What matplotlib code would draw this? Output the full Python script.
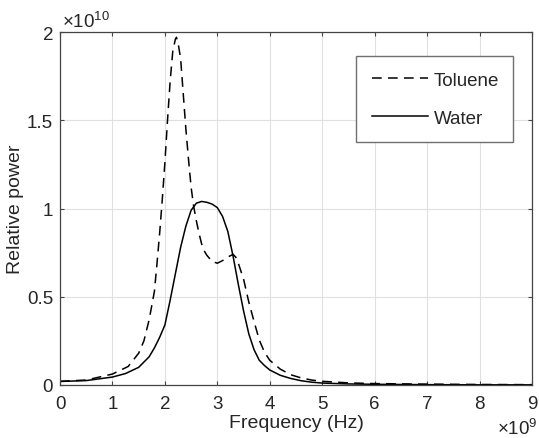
import matplotlib
matplotlib.use("Agg")
import matplotlib.pyplot as plt

plt.rcParams['font.family'] = ['Liberation Sans', 'DejaVu Sans']
plt.rcParams['mathtext.fontset'] = 'custom'
plt.rcParams['mathtext.rm'] = 'Liberation Sans'
plt.rcParams['lines.scale_dashes'] = False

# Data (frequency in units of 1e9 Hz, power in units of 1e10)
toluene_f = [0.0, 0.5, 1.0, 1.3, 1.5, 1.6, 1.7, 1.8, 1.85, 1.9, 1.95, 2.0, 2.05, 2.1, 2.15,
             2.2, 2.22, 2.25, 2.3, 2.35, 2.4, 2.45, 2.5, 2.55, 2.6, 2.65, 2.7, 2.75, 2.8,
             2.9, 3.0, 3.1, 3.2, 3.3, 3.35, 3.4, 3.5, 3.6, 3.7, 3.8, 3.9, 4.0, 4.2, 4.4,
             4.6, 4.8, 5.0, 5.5, 6.0, 7.0, 8.0, 9.0]
toluene_p = [0.021, 0.028, 0.062, 0.105, 0.18, 0.25, 0.37, 0.53, 0.69, 0.86, 1.05, 1.26, 1.50, 1.72, 1.89,
             1.96, 1.97, 1.94, 1.85, 1.65, 1.45, 1.28, 1.12, 1.01, 0.93, 0.86, 0.80, 0.76, 0.735,
             0.70, 0.69, 0.705, 0.725, 0.74, 0.725, 0.69, 0.60, 0.47, 0.36, 0.255, 0.185, 0.14, 0.09, 0.058,
             0.040, 0.028, 0.021, 0.012, 0.008, 0.005, 0.003, 0.002]

water_f = [0.0, 0.5, 1.0, 1.25, 1.5, 1.7, 1.8, 1.9, 2.0, 2.1, 2.2, 2.3, 2.4, 2.5, 2.6, 2.7,
           2.8, 2.9, 3.0, 3.05, 3.1, 3.2, 3.3, 3.4, 3.5, 3.6, 3.7, 3.8, 3.9, 4.0, 4.2, 4.4,
           4.6, 4.8, 5.0, 5.5, 6.0, 7.0, 8.0, 9.0]
water_p = [0.020, 0.025, 0.045, 0.065, 0.10, 0.16, 0.21, 0.27, 0.34, 0.48, 0.63, 0.78, 0.90, 0.99, 1.03, 1.04,
           1.035, 1.025, 1.005, 0.98, 0.955, 0.87, 0.73, 0.57, 0.42, 0.29, 0.20, 0.14, 0.11, 0.085, 0.055, 0.037,
           0.024, 0.016, 0.011, 0.006, 0.004, 0.002, 0.001, 0.001]

xticks = [0, 1, 2, 3, 4, 5, 6, 7, 8, 9]
yticks = [0, 0.5, 1, 1.5, 2]
ytick_labels = ['0', '0.5', '1', '1.5', '2']

txt = (0.15, 0.15, 0.15)
W, H = 539, 439
ax_l, ax_r, ax_t, ax_b = 60, 532, 33, 386
fig = plt.figure(figsize=(W / 100, H / 100), dpi=100)
ax = fig.add_axes([ax_l / W, (H - ax_b) / H, (ax_r - ax_l) / W, (ax_b - ax_t) / H])
aw, ah = ax_r - ax_l, ax_b - ax_t

ax.plot(toluene_f, toluene_p, color='black', lw=1.1, dashes=[7, 4.5], label='Toluene')
ax.plot(water_f, water_p, color='black', lw=1.1, label='Water')

ax.set_xlim(0, 9)
ax.set_ylim(0, 2)
ax.set_xticks(xticks)
ax.set_xticklabels([str(t) for t in xticks])
ax.set_yticks(yticks)
ax.set_yticklabels(ytick_labels)
ax.grid(True, color='#e0e0e0', lw=0.8)
ax.set_axisbelow(True)
for s in ax.spines.values():
    s.set_color('#444444')
    s.set_linewidth(0.9)
ax.tick_params(direction='in', length=3, width=0.8, colors='#444444', labelcolor=txt,
               labelsize=13.5, top=True, right=True)
ax.tick_params(axis='x', pad=7)
ax.tick_params(axis='y', pad=5)

ax.set_xlabel('Frequency (Hz)', fontsize=14, color=txt)
ax.set_ylabel('Relative power', fontsize=14, color=txt)
ax.xaxis.set_label_coords(0.5, (ax_b - 415) / ah)
ax.yaxis.set_label_coords((24 - ax_l) / aw, 0.5)

ax.text((62 - ax_l) / aw, (ax_b - 28) / ah, r'$\times10^{10}$', transform=ax.transAxes,
        fontsize=13.5, color=txt, ha='left', va='baseline')
fig.text(0.998, (H - 435) / H, r'$\times10^{9}$', fontsize=13.5, color=txt,
         ha='right', va='baseline')

leg = ax.legend(loc='upper left',
                bbox_to_anchor=((356 - ax_l) / aw, (ax_b - 142) / ah, (513 - 356) / aw, (142 - 57) / ah),
                mode='expand', fontsize=13.5, frameon=True,
                fancybox=False, edgecolor='#707070', framealpha=1, handlelength=3.0,
                handletextpad=0.32, labelspacing=1.12, borderpad=0.83, borderaxespad=0)
leg.get_frame().set_linewidth(1.0)
for t in leg.get_texts():
    t.set_color(txt)

fig.savefig('out.png', dpi=100)
